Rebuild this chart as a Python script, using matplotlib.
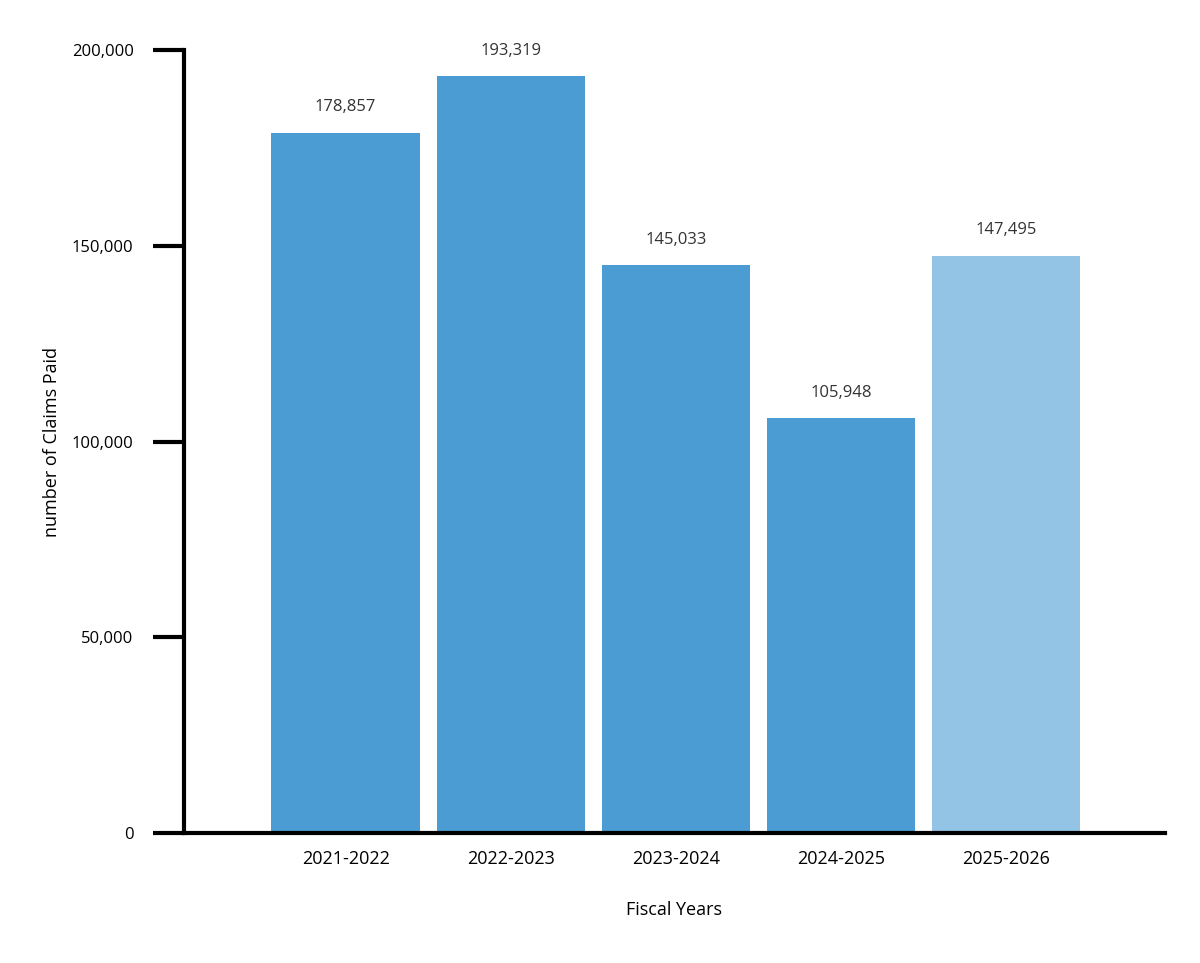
import matplotlib
matplotlib.use("Agg")
import matplotlib.pyplot as plt

years = ["2021-2022", "2022-2023", "2023-2024", "2024-2025", "2025-2026"]
claims = [178857, 193319, 145033, 105948, 147495]
colors = ["#4b9cd3", "#4b9cd3", "#4b9cd3", "#4b9cd3", "#93c3e5"]
yticks = [0, 50000, 100000, 150000, 200000]

plt.rcParams["font.family"] = ["Open Sans", "DejaVu Sans"]

fig = plt.figure(figsize=(12, 9.63), dpi=100)
ax = fig.add_axes([0.153, 0.135, 0.818, 0.813])

x = list(range(len(years)))
ax.bar(x, claims, width=0.9, color=colors)
for xi, v in zip(x, claims):
    ax.text(xi, v + 4500, f"{v:,}", ha="center", va="bottom", fontsize=12, color="#333333")

ax.set_xlim(-0.982, 4.964)
ax.set_ylim(0, 200000)
ax.set_yticks(yticks)
ax.set_yticklabels([f"{t:,}" for t in yticks])
ax.set_xticks(x)
ax.set_xticklabels(years)
ax.tick_params(axis="y", length=22, width=3, labelsize=12, pad=14)
ax.tick_params(axis="x", length=0, labelsize=13, pad=12)
for s in ["top", "right"]:
    ax.spines[s].set_visible(False)
ax.spines["left"].set_linewidth(3)
ax.spines["bottom"].set_linewidth(3)

ax.set_xlabel("Fiscal Years", fontsize=13, labelpad=24)
ax.set_ylabel("number of Claims Paid", fontsize=13, labelpad=8)

fig.savefig("out.png", dpi=100)
